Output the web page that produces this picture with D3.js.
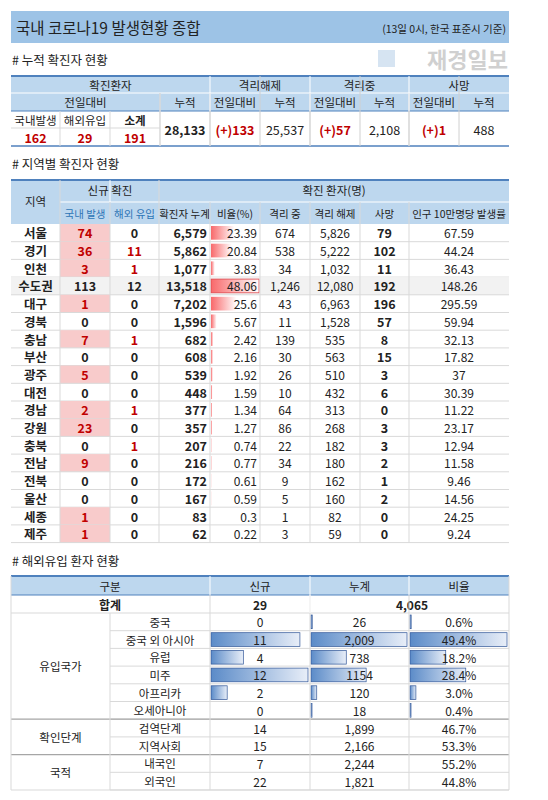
<!DOCTYPE html><html><head><meta charset="utf-8">
<script src="https://cdn.jsdelivr.net/npm/d3@7"></script>
<style>body{margin:0;background:#fff}svg{font-family:"Noto Sans CJK KR","Noto Sans",sans-serif}</style></head><body>
<script>
const topHeader = ["확진환자","격리해제","격리중","사망"];
const topValues = {domestic:162, overseas:29, subtotal:191, total:"28,133", relDelta:"(+)133", relTotal:"25,537", isoDelta:"(+)57", isoTotal:"2,108", deathDelta:"(+)1", deathTotal:"488"};
const regions = ["서울","경기","인천","수도권","대구","경북","충남","부산","광주","대전","경남","강원","충북","전남","전북","울산","세종","제주"];
const newDomestic = [74,36,3,113,1,0,7,0,5,0,2,23,0,9,0,0,1,1];
const newOverseas = [0,11,1,12,0,0,1,0,0,0,1,0,1,0,0,0,0,0];
const cumulative = [6579,5862,1077,13518,7202,1596,682,608,539,448,377,357,207,216,172,167,83,62];
const ratio = ["23.39","20.84","3.83","48.06","25.6","5.67","2.42","2.16","1.92","1.59","1.34","1.27","0.74","0.77","0.61","0.59","0.3","0.22"];
const isolated = [674,538,34,1246,43,11,139,30,26,10,64,86,22,34,9,5,1,3];
const released = [5826,5222,1032,12080,6963,1528,535,563,510,432,313,268,182,180,162,160,82,59];
const deaths = [79,102,11,192,196,57,8,15,3,6,0,3,3,2,1,2,0,0];
const per100k = ["67.59","44.24","36.43","148.26","295.59","59.94","32.13","17.82","37","30.39","11.22","23.17","12.94","11.58","9.46","14.56","24.25","9.24"];
const ovGroups = [["유입국가",6],["확인단계",2],["국적",2]];
const ovCats = ["중국","중국 외 아시아","유럽","미주","아프리카","오세아니아","검역단계","지역사회","내국인","외국인"];
const ovNew = [0,11,4,12,2,0,14,15,7,22];
const ovCum = [26,2009,738,1154,120,18,1899,2166,2244,1821];
const ovCumLabel = ["26","2,009","738","1154","120","18","1,899","2,166","2,244","1,821"];
const ovRatio = [0.6,49.4,18.2,28.4,3.0,0.4,46.7,53.3,55.2,44.8];

const svg = d3.select("body").append("svg").attr("width",548).attr("height",800);
const defs = svg.append("defs");
function grad(id,c1,c2){const g=defs.append("linearGradient").attr("id",id);g.append("stop").attr("offset","0").attr("stop-color",c1);g.append("stop").attr("offset","1").attr("stop-color",c2);}
grad("rg","#f8696b","#fff");grad("bg","#5b8bc8","#e8eef8");
const RED="#c00000", HB="#bdd7ee", GRID="#d9d9d9";
function txt(x,y,t,o={}){return svg.append("text").attr("x",x).attr("y",y).attr("text-anchor",o.a||"middle").attr("dominant-baseline","central")
 .attr("font-size",o.s||12).attr("font-weight",o.b?"bold":"normal").attr("fill",o.c||"#222").text(t);}
function rect(x,y,w,h,f,s){return svg.append("rect").attr("x",x).attr("y",y).attr("width",w).attr("height",h).attr("fill",f||"none").attr("stroke",s||"none");}
function line(x1,y1,x2,y2,c,w){svg.append("line").attr("x1",x1).attr("y1",y1).attr("x2",x2).attr("y2",y2).attr("stroke",c).attr("stroke-width",w||1);}
const fmt=d3.format(",");

// title
rect(11,11,498,32,"#9dc3e6");
txt(16,27,"국내 코로나19 발생현황 종합",{a:"start",s:15.5});
txt(506,28,"(13일 0시, 한국 표준시 기준)",{a:"end",s:10.5});
rect(378,50,17,17,"#d6e4f2");
txt(508,58,"재경일보",{a:"end",s:22,b:true,c:"#d0d0d0"});
txt(12,59,"# 누적 확진자 현황",{a:"start",s:12.5});

// top table
const cx=[11,60,110,160,210,260,310,360,409,459,509];
rect(11,76,498,35,HB);
[[0,4],[4,6],[6,8],[8,10]].forEach((r,i)=>txt((cx[r[0]]+cx[r[1]])/2,85,topHeader[i],{s:11.5}));
txt(85+0,102,"전일대비",{s:11.5}).attr("x",(cx[0]+cx[3])/2);
const h2=["누적","전일대비","누적","전일대비","누적","전일대비","누적"];
h2.forEach((t,i)=>txt((cx[i+3]+cx[i+4])/2,102,t,{s:11.5}));
["국내발생","해외유입","소계"].forEach((t,i)=>txt((cx[i]+cx[i+1])/2,120,t,{s:11.5,b:i==2}));
[topValues.domestic,topValues.overseas,topValues.subtotal].forEach((t,i)=>txt((cx[i]+cx[i+1])/2,137,t,{s:12.5,b:true,c:RED}));
const tv=[topValues.total,topValues.relDelta,topValues.relTotal,topValues.isoDelta,topValues.isoTotal,topValues.deathDelta,topValues.deathTotal];
tv.forEach((t,i)=>{const d=i%2==1;txt((cx[i+3]+cx[i+4])/2,129,t,{s:12.5,b:d||i==0,c:d?RED:"#222"});});
line(11,76,509,76,"#4f81bd",2);line(11,93,509,93,"#fff");line(11,111,509,111,"#4f81bd",1);line(11,146,509,146,"#4f81bd",1.5);
line(11,128,160,128,GRID);
[60,110].forEach(x=>line(x,111,x,146,GRID));
cx.slice(3,10).forEach(x=>line(x,(x==260||x==360||x==459)?76:93,x,146,x>=210?"#d0d0d0":GRID));
line(160,93,160,146,GRID);
[210,310,409].forEach(x=>line(x,76,x,111,"#fff"));
[210,310,409].forEach(x=>line(x,111,x,146,GRID));

// region table
txt(12,163,"# 지역별 확진자 현황",{a:"start",s:12.5});
const rx=[11,60,110,159,210,260,310,360,409,509];
const y0=224, rh=17.7;
rect(11,180,498,y0-180,HB);
txt(35.5,201,"지역",{s:11.5});
txt(110,190,"신규 확진",{s:11.5});
txt(334,190,"확진 환자(명)",{s:11.5});
const rh2=["국내 발생","해외 유입","확진자 누계","비율(%)","격리 중","격리 해제","사망","인구 10만명당 발생률"];
rh2.forEach((t,i)=>txt((rx[i+1]+rx[i+2])/2,213,t,{s:10.5,c:i<2?"#2e75b6":"#222"}));
line(60,202,509,202,"#fff");
const wScale=d3.scaleLinear().domain([0,48.06]).range([0,48]);
regions.forEach((r,i)=>{
  const y=y0+i*rh, cy=y+rh/2, sd=r==="수도권";
  if(sd) rect(11,y,498,rh,"#f2f2f2");
  if(!sd && newDomestic[i]>0) rect(60,y,50,rh,"#f8cbcb");
  const w=wScale(+ratio[i]); if(w>0) rect(211,y+2,w,rh-4,"url(#rg)",sd?"#e0474c":null).attr("stroke-width",0.8);
  txt(35.5,cy,r,{s:12.5,b:true});
  txt(85,cy,newDomestic[i],{s:12.5,b:true,c:(!sd&&newDomestic[i]>0)?RED:"#222"});
  txt(134.5,cy,newOverseas[i],{s:12.5,b:true,c:(!sd&&newOverseas[i]>0)?RED:"#222"});
  txt(207,cy,fmt(cumulative[i]),{s:12.5,b:true,a:"end"});
  txt(257,cy,ratio[i],{s:12,a:"end"});
  txt(285,cy,fmt(isolated[i]),{s:12});
  txt(335,cy,fmt(released[i]),{s:12});
  txt(384.5,cy,deaths[i],{s:12.5,b:true});
  txt(459,cy,per100k[i],{s:12});
  line(11,y+rh,509,y+rh,GRID);
});
const yEnd=y0+regions.length*rh;
line(11,180,509,180,"#4f81bd",2);
rx.slice(1,-1).forEach(x=>line(x,x==60||x==110?(x==60?180:202):(x==159?180:202),x,yEnd,GRID));
line(110,180,110,202,"#fff");

// overseas table
txt(12,560,"# 해외유입 환자 현황",{a:"start",s:12.5});
const ox=[11,110,210,310,409,509];
rect(11,576,498,19,HB);line(11,576,509,576,"#4f81bd",2);
txt(110,585.5,"구분",{s:11.5});
["신규","누계","비율"].forEach((t,i)=>txt((ox[i+2]+ox[i+3])/2,585.5,t,{s:11.5}));
line(11,595,509,595,"#4f81bd",1);
txt(110,604,"합계",{s:12,b:true});txt(260,604,"29",{s:12,b:true});txt(412,604,"4,065",{s:12,b:true});
line(11,613,509,613,GRID);
const oy0=613, orh=17.7;
const sN=d3.scaleLinear().domain([0,12]).range([0,97]);
const sC=d3.scaleLinear().domain([0,2009]).range([0,96]);
const sR=d3.scaleLinear().domain([0,49.4]).range([0,97]);
ovCats.forEach((c,i)=>{
  const y=oy0+i*orh, cy=y+orh/2;
  if(i<6){
    [[sN(ovNew[i]),211],[sC(ovCum[i]),311],[sR(ovRatio[i]),410]].forEach(([w,x])=>{if(w>0) rect(x,y+2,Math.max(w,1),orh-4,"url(#bg)","#2f5597").attr("stroke-width",0.7);});
  }
  txt(160,cy,c,{s:11.5});
  txt(260,cy,ovNew[i],{s:12});
  txt(359.5,cy,ovCumLabel[i],{s:12});
  txt(459,cy,ovRatio[i].toFixed(1)+"%",{s:12});
  line(110,y+orh,509,y+orh,GRID);
});
let gi=0;
ovGroups.forEach(([g,n])=>{const y=oy0+gi*orh;txt(60.5,y+n*orh/2,g,{s:11.5});gi+=n;line(11,oy0+gi*orh,509,oy0+gi*orh,gi<10?"#a6a6a6":GRID,gi<10?1.3:1);});
[110,210,310,409].forEach(x=>line(x,x==110?613:595,x,oy0+10*orh,GRID));
line(310,595,310,613,"#fff");
[210,310,409].forEach(x=>line(x,576,x,595,"#fff"));
line(11,576,11,oy0+10*orh,GRID);line(509,576,509,oy0+10*orh,GRID);
</script></body></html>
